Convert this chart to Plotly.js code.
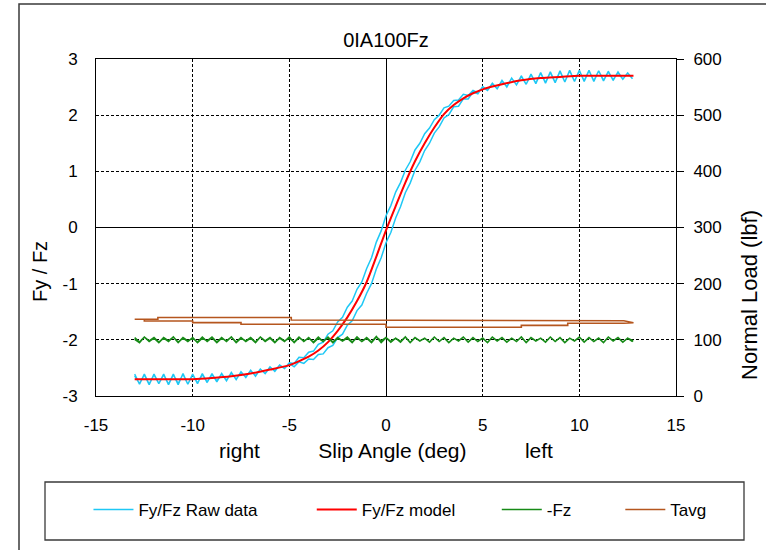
<!DOCTYPE html>
<html>
<head>
<meta charset="utf-8">
<script src="https://cdn.plot.ly/plotly-3.0.1.min.js"></script>
<style>html,body{margin:0;padding:0;background:#fff;}#chart{width:766px;height:550px;}</style>
</head>
<body>
<div id="chart"></div>
<script>
// Slip angle sweep, forward (increasing) and return (decreasing), deg
var sweepFwd = [-13,-12.75,-12.5,-12.25,-12,-11.75,-11.5,-11.25,-11,-10.75,-10.5,-10.25,-10,-9.75,-9.5,-9.25,-9,-8.75,-8.5,-8.25,-8,-7.75,-7.5,-7.25,-7,-6.75,-6.5,-6.25,-6,-5.75,-5.5,-5.25,-5,-4.75,-4.5,-4.25,-4,-3.75,-3.5,-3.25,-3,-2.75,-2.5,-2.25,-2,-1.75,-1.5,-1.25,-1,-0.75,-0.5,-0.25,0,0.25,0.5,0.75,1,1.25,1.5,1.75,2,2.25,2.5,2.75,3,3.25,3.5,3.75,4,4.25,4.5,4.75,5,5.25,5.5,5.75,6,6.25,6.5,6.75,7,7.25,7.5,7.75,8,8.25,8.5,8.75,9,9.25,9.5,9.75,10,10.25,10.5,10.75,11,11.25,11.5,11.75,12,12.25,12.5,12.75];
var sweepBack = [12.75,12.5,12.25,12,11.75,11.5,11.25,11,10.75,10.5,10.25,10,9.75,9.5,9.25,9,8.75,8.5,8.25,8,7.75,7.5,7.25,7,6.75,6.5,6.25,6,5.75,5.5,5.25,5,4.75,4.5,4.25,4,3.75,3.5,3.25,3,2.75,2.5,2.25,2,1.75,1.5,1.25,1,0.75,0.5,0.25,0,-0.25,-0.5,-0.75,-1,-1.25,-1.5,-1.75,-2,-2.25,-2.5,-2.75,-3,-3.25,-3.5,-3.75,-4,-4.25,-4.5,-4.75,-5,-5.25,-5.5,-5.75,-6,-6.25,-6.5,-6.75,-7,-7.25,-7.5,-7.75,-8,-8.25,-8.5,-8.75,-9,-9.25,-9.5,-9.75,-10,-10.25,-10.5,-10.75,-11,-11.25,-11.5,-11.75,-12,-12.25,-12.5,-12.75,-13];

// Fy/Fz raw data
var rawFyFzFwd = [-2.61,-2.79,-2.61,-2.79,-2.62,-2.78,-2.61,-2.80,-2.62,-2.78,-2.61,-2.79,-2.62,-2.77,-2.62,-2.75,-2.62,-2.73,-2.61,-2.72,-2.59,-2.70,-2.58,-2.66,-2.55,-2.64,-2.52,-2.60,-2.49,-2.55,-2.45,-2.51,-2.42,-2.48,-2.39,-2.42,-2.34,-2.35,-2.26,-2.25,-2.14,-2.10,-1.96,-1.90,-1.74,-1.66,-1.48,-1.38,-1.17,-1.00,-0.74,-0.54,-0.27,-0.09,0.17,0.37,0.62,0.79,1.02,1.17,1.37,1.50,1.68,1.79,1.95,2.01,2.15,2.16,2.29,2.29,2.41,2.38,2.51,2.44,2.57,2.47,2.62,2.50,2.66,2.54,2.70,2.55,2.73,2.56,2.76,2.57,2.77,2.58,2.79,2.59,2.80,2.60,2.80,2.60,2.79,2.61,2.79,2.62,2.77,2.63,2.76,2.64,2.75,2.65];
var rawFyFzBack = [2.65,2.75,2.64,2.77,2.62,2.78,2.61,2.79,2.60,2.80,2.61,2.79,2.60,2.79,2.59,2.78,2.58,2.76,2.58,2.75,2.57,2.72,2.55,2.69,2.54,2.66,2.51,2.61,2.47,2.56,2.44,2.50,2.40,2.44,2.35,2.37,2.27,2.26,2.16,2.13,2.00,1.92,1.77,1.67,1.50,1.38,1.17,1.02,0.80,0.63,0.39,0.21,-0.06,-0.26,-0.54,-0.73,-0.97,-1.10,-1.31,-1.42,-1.60,-1.68,-1.84,-1.90,-2.04,-2.08,-2.20,-2.22,-2.32,-2.31,-2.42,-2.41,-2.51,-2.45,-2.56,-2.48,-2.60,-2.52,-2.65,-2.54,-2.67,-2.57,-2.71,-2.58,-2.73,-2.60,-2.75,-2.60,-2.76,-2.60,-2.78,-2.61,-2.79,-2.60,-2.80,-2.61,-2.79,-2.62,-2.78,-2.61,-2.80,-2.62,-2.78,-2.64];

// Fy/Fz model
var modelSlip = [-13,-12,-11,-10,-9,-8,-7,-6,-5,-4.5,-4,-3.5,-3,-2.5,-2,-1.5,-1,-0.5,0,0.5,1,1.5,2,2.5,3,3.5,4,4.5,5,6,7,8,9,10,11,12,12.8];
var modelFyFz = [-2.70,-2.70,-2.70,-2.70,-2.68,-2.65,-2.60,-2.53,-2.45,-2.38,-2.30,-2.19,-2.04,-1.84,-1.60,-1.31,-0.97,-0.52,-0.05,0.38,0.80,1.18,1.50,1.78,2.02,2.18,2.30,2.39,2.46,2.55,2.62,2.66,2.68,2.70,2.70,2.70,2.70];

// -Fz normal load (lbf)
var fzFwd = [104,96,105,97,103,95,104,98,105,96,103,97,104,95,103,98,105,96,104,97,105,95,103,98,104,96,105,97,103,95,104,98,103,96,105,97,104,95,103,97,105,96,104,98,103,95,105,97,104,96,106,95,104,97,103,96,105,95,104,98,103,96,105,97,104,95,103,98,105,96,104,97,103,95,105,98,104,96,103,97,105,95,104,98,103,96,105,97,104,95,103,98,105,96,104,97,103,95,105,98,104,96,103,97];
var fzBack = [99,103,96,104,98,105,95,103,97,104,96,105,98,103,95,104,97,105,96,103,98,104,95,105,97,103,96,104,98,105,95,103,97,104,96,105,98,103,95,104,97,105,96,103,98,104,95,105,97,103,96,104,98,105,95,103,97,104,96,105,98,103,95,104,97,105,96,103,98,104,95,105,97,103,96,104,98,105,95,103,97,104,96,105,98,103,95,104,97,105,96,103,98,104,95,105,97,103,96,104,98,105,95,101];

// Tavg (plotted on the right axis)
var tavgSlip = [-13,-11.8,-11.8,-4.9,-4.9,3.1,3.1,12.3,12.8,12.3,9.4,9.4,7.0,7.0,0.0,0.0,-7.5,-7.5,-10.0,-10.0,-12.5,-12.5];
var tavgVal = [136.6,136.6,139.7,139.7,135.3,135.3,134.1,134.1,130.5,129.4,129.4,125.8,125.8,122.3,122.3,127.7,127.7,130.6,130.6,133.5,133.5,136.6];

var xTicks = [-15,-10,-5,0,5,10,15];
var xTickText = ['-15','-10','-5','0','5','10','15'];
var yTicks = [-3,-2,-1,0,1,2,3];
var yTickText = ['-3','-2','-1','0','1','2','3'];
var y2Ticks = [0,100,200,300,400,500,600];
var y2TickText = ['0','100','200','300','400','500','600'];

var FONT = 'Liberation Sans, Arial, sans-serif';
var traces = [
  {x: sweepFwd.concat(sweepBack), y: rawFyFzFwd.concat(rawFyFzBack), type:'scatter', mode:'lines', name:'Fy/Fz Raw data',
   line:{color:'#1EC8F5', width:1.5}, legend:'legend'},
  {x: modelSlip, y: modelFyFz, type:'scatter', mode:'lines', name:'Fy/Fz model',
   line:{color:'#FF0000', width:2, shape:'spline', smoothing:0.8}, legend:'legend2'},
  {x: sweepFwd.concat(sweepBack), y: fzFwd.concat(fzBack), type:'scatter', mode:'lines', name:'-Fz', yaxis:'y2',
   line:{color:'#178A17', width:1.6}, legend:'legend3'},
  {x: tavgSlip, y: tavgVal, type:'scatter', mode:'lines', name:'Tavg', yaxis:'y2',
   line:{color:'#B5561E', width:1.6}, legend:'legend4'}
];

function leg(xp){
  return {x:xp, y:-0.338, xanchor:'left', yanchor:'middle', orientation:'h', bgcolor:'rgba(0,0,0,0)',
          borderwidth:0, itemwidth:40, font:{family:FONT, size:17, color:'#000'}};
}
var sp = '\u00a0\u00a0\u00a0\u00a0\u00a0\u00a0\u00a0\u00a0\u00a0\u00a0';
var layout = {
  width:766, height:550,
  margin:{l:96, r:90, t:59, b:154, pad:0},
  paper_bgcolor:'#fff', plot_bgcolor:'#fff',
  font:{family:FONT, color:'#000'},
  title:{text:'0IA100Fz', x:0.5, xref:'paper', xanchor:'center', y:1-40/550, yref:'container', yanchor:'middle',
         font:{family:FONT, size:20, color:'#000'}},
  xaxis:{range:[-15,15], tickvals:xTicks, ticktext:xTickText, showgrid:true, gridcolor:'#000', gridwidth:1, griddash:'3px,2px',
         zeroline:true, zerolinecolor:'#000', zerolinewidth:1, showline:true, linecolor:'#000', linewidth:1, mirror:true,
         ticks:'outside', ticklen:14, tickcolor:'rgba(0,0,0,0)', tickfont:{family:FONT, size:17, color:'#000'},
         title:{text:'right'+sp+'Slip Angle (deg)'+sp+'left', font:{family:FONT, size:21, color:'#000'}, standoff:8}},
  yaxis:{range:[-3,3], tickvals:yTicks, ticktext:yTickText, showgrid:true, gridcolor:'#000', gridwidth:1, griddash:'3px,2px',
         zeroline:true, zerolinecolor:'#000', zerolinewidth:1, showline:true, linecolor:'#000', linewidth:1, mirror:true,
         ticks:'outside', ticklen:14, tickcolor:'rgba(0,0,0,0)', tickfont:{family:FONT, size:17, color:'#000'}},
  yaxis2:{range:[0,600], tickvals:y2Ticks, ticktext:y2TickText, overlaying:'y', side:'right', showgrid:false, zeroline:false,
          showline:true, linecolor:'#000', linewidth:1, ticks:'outside', ticklen:7, tickcolor:'#000', tickwidth:1,
          ticklabelstandoff:6, tickfont:{family:FONT, size:17, color:'#000'}},
  showlegend:true,
  legend: leg(-0.013), legend2: leg(0.372), legend3: leg(0.691), legend4: leg(0.904),
  annotations:[
    {text:'Fy / Fz', xref:'paper', yref:'paper', x:(40-96)/580, y:(396-272)/337, textangle:-90, showarrow:false,
     xanchor:'center', yanchor:'middle', font:{family:FONT, size:20, color:'#000'}},
    {text:'Normal Load (lbf)', xref:'paper', yref:'paper', x:(749-96)/580, y:(396-295)/337, textangle:-90, showarrow:false,
     xanchor:'center', yanchor:'middle', font:{family:FONT, size:22, color:'#000'}}
  ],
  shapes:[
    {type:'rect', xref:'paper', yref:'paper', x0:(19-96)/580, x1:(775-96)/580, y0:(396-4)/337, y1:(396-560)/337,
     line:{color:'#3a3a3a', width:1.5}, fillcolor:'rgba(0,0,0,0)', layer:'below'},
    {type:'rect', xref:'paper', yref:'paper', x0:(45-96)/580, x1:(744-96)/580, y0:(396-482)/337, y1:(396-540)/337,
     line:{color:'#3a3a3a', width:1.3}, fillcolor:'rgba(0,0,0,0)', layer:'below'}
  ]
};
Plotly.newPlot('chart', traces, layout, {staticPlot:true, displayModeBar:false});
</script>
</body>
</html>
